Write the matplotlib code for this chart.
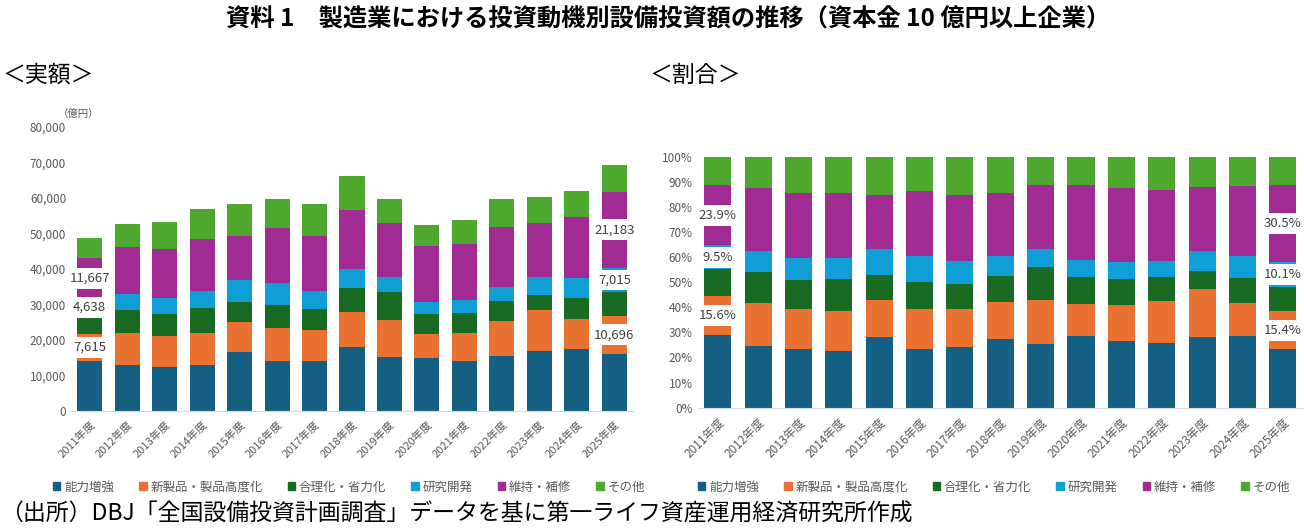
import numpy as np
import matplotlib
matplotlib.use("Agg")
import matplotlib.pyplot as plt
from matplotlib.patches import Patch

plt.rcParams['font.family'] = ['Noto Sans CJK JP', 'DejaVu Sans']

years = [f"{y}年度" for y in range(2011, 2026)]
series = ["能力増強", "新製品・製品高度化", "合理化・省力化", "研究開発", "維持・補修", "その他"]
colors = ["#156082", "#E97132", "#196B24", "#0F9ED5", "#A02B93", "#4EA72E"]

# 億円
noryoku = [14200, 12900, 12400, 12850, 16500, 14000, 14000, 18100, 15200, 15000, 14200, 15400, 17000, 17600, 16100]
shinseihin = [7615, 9050, 8600, 9100, 8450, 9500, 8900, 9800, 10400, 6700, 7750, 10000, 11400, 8300, 10696]
gorika = [5100, 6450, 6200, 7150, 5750, 6500, 5700, 6700, 7800, 5600, 5550, 5600, 4300, 6000, 6600]
kenkyu = [4638, 4500, 4600, 4800, 6200, 6100, 5300, 5400, 4300, 3500, 3800, 3800, 5000, 5600, 7015]
iji = [11667, 13200, 13800, 14600, 12500, 15400, 15500, 16600, 15200, 15700, 15700, 17000, 15200, 17100, 21183]
sonota = [5600, 6500, 7700, 8300, 8800, 8200, 8800, 9500, 6700, 5800, 6750, 7800, 7300, 7300, 7800]

data = np.array([noryoku, shinseihin, gorika, kenkyu, iji, sonota], dtype=float)
share = data / data.sum(axis=0) * 100

W, H = 1304, 528
fig = plt.figure(figsize=(W / 100, H / 100), dpi=100)

def px_axes(x0, x1, y_top, y_bot):
    return fig.add_axes([x0 / W, 1 - y_bot / H, (x1 - x0) / W, (y_bot - y_top) / H])

grey = "#595959"

def draw(ax, vals, fmt, labels_at):
    x = np.arange(len(years))
    bottom = np.zeros(len(years))
    for i, (v, c) in enumerate(zip(vals, colors)):
        ax.bar(x, v, 0.67, bottom=bottom, color=c, edgecolor="none")
        for j in labels_at:
            if i in (1, 3, 4):
                ax.text(x[j], bottom[j] + v[j] / 2, fmt(v[j]), ha="center", va="center",
                        fontsize=9.5, color="#404040",
                        bbox=dict(boxstyle="square,pad=0.3", fc="white", ec="none"))
        bottom += v
    ax.set_xlim(-0.5, len(years) - 0.5)
    ax.set_xticks(x)
    ax.set_xticklabels(years, rotation=45, ha="right", rotation_mode="anchor", fontsize=8, color=grey)
    ax.tick_params(axis="both", length=0, labelsize=8.5, labelcolor=grey)
    ax.tick_params(axis="x", pad=6)
    for s in ("top", "right", "left"):
        ax.spines[s].set_visible(False)
    ax.spines["bottom"].set_color("#D9D9D9")
    handles = [Patch(color=c, label=s) for c, s in zip(colors, series)]
    return handles

axl = px_axes(71, 633, 127, 411)
hl = draw(axl, data, lambda v: f"{v:,.0f}", [0, 14])
axl.set_ylim(0, 80000)
axl.set_yticks(np.arange(0, 80001, 10000))
axl.set_yticklabels([f"{v:,}" for v in range(0, 80001, 10000)])
axl.tick_params(axis="x", labelsize=8)
fig.text(58 / W, 1 - 114 / H, "（億円）", fontsize=7.5, color=grey, va="center")

axr = px_axes(697.5, 1303, 156.7, 407.7)
hr = draw(axr, share, lambda v: f"{v:.1f}%", [0, 14])
axr.set_ylim(0, 100)
axr.set_yticks(np.arange(0, 101, 10))
axr.set_yticklabels([f"{v}%" for v in range(0, 101, 10)])

for h, cx in ((hl, 349), (hr, 994)):
    fig.legend(handles=h, loc="center", bbox_to_anchor=(cx / W, 1 - 487 / H), ncol=6, frameon=False,
               fontsize=9, handlelength=0.6, handleheight=0.6, handletextpad=0.3, columnspacing=2.0,
               labelcolor=grey)

fig.text(668 / W, 1 - 20 / H, "資料 1　製造業における投資動機別設備投資額の推移（資本金 10 億円以上企業）",
         ha="center", va="center", fontsize=17.5, fontweight="bold")
fig.text(3 / W, 1 - 75 / H, "＜実額＞", ha="left", va="center", fontsize=16.5)
fig.text(650 / W, 1 - 75 / H, "＜割合＞", ha="left", va="center", fontsize=16.5)
fig.text(0, 1 - 514 / H, "（出所）DBJ「全国設備投資計画調査」データを基に第一ライフ資産運用経済研究所作成",
         ha="left", va="center", fontsize=16.5)

fig.savefig("out.png", dpi=100)
